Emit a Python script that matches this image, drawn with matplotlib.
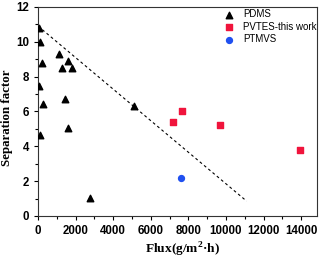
import matplotlib
matplotlib.use("Agg")
import matplotlib.pyplot as plt
from matplotlib.ticker import MultipleLocator

pdms_x = [50, 100, 230, 70, 250, 1135, 1580, 1277, 1826, 1437, 1580, 5093, 100, 2750]
pdms_y = [10.8, 10.0, 8.8, 7.45, 6.42, 9.3, 8.9, 8.5, 8.5, 6.7, 5.03, 6.33, 4.63, 1.01]
pvtes_x = [7680, 7168, 9702, 13960]
pvtes_y = [6.0, 5.39, 5.2, 3.78]
ptmvs_x = [7594]
ptmvs_y = [2.2]
line_x = [0, 11100]
line_y = [10.9, 0.85]

plt.rcParams['mathtext.fontset'] = 'custom'
plt.rcParams['mathtext.rm'] = 'Liberation Serif:bold'
plt.rcParams['mathtext.bf'] = 'Liberation Serif:bold'

fig = plt.figure(figsize=(3.2, 2.58), dpi=100)
ax = fig.add_axes([0.119, 0.163, 0.872, 0.810])

ax.plot(line_x, line_y, linestyle=(0, (2.5, 2.5)), color='black', linewidth=0.8)
ax.scatter(pdms_x, pdms_y, marker='^', s=22, color='black', label='PDMS', zorder=3)
ax.scatter(pvtes_x, pvtes_y, marker='s', s=16, color='#f0143c', label='PVTES-this work', zorder=3)
ax.scatter(ptmvs_x, ptmvs_y, marker='o', s=18, color='#2050f0', label='PTMVS', zorder=3)

ax.set_xlim(0, 14850)
ax.set_ylim(0, 12)
ax.xaxis.set_major_locator(MultipleLocator(2000))
ax.xaxis.set_minor_locator(MultipleLocator(1000))
ax.yaxis.set_major_locator(MultipleLocator(2))
ax.yaxis.set_minor_locator(MultipleLocator(1))
ax.tick_params(which='both', direction='out', top=False, right=False)
ax.tick_params(which='major', length=3, width=0.8)
ax.tick_params(which='minor', length=2, width=0.8)
for lbl in ax.get_xticklabels() + ax.get_yticklabels():
    lbl.set_fontfamily('Liberation Sans')
    lbl.set_fontweight('bold')
    lbl.set_fontsize(8.3)
for sp in ax.spines.values():
    sp.set_linewidth(0.8)
    sp.set_color('#333333')

ax.set_xlabel('Flux(g/m$^{2}$·h)', fontfamily='Liberation Serif', fontweight='bold', fontsize=9.6)
ax.set_ylabel('Separation factor', fontfamily='Liberation Serif', fontweight='bold', fontsize=9.3)
ax.xaxis.set_label_coords(0.516, -0.163)
ax.yaxis.set_label_coords(-0.111, 0.471)
ax.xaxis.label.set_verticalalignment('center')
ax.yaxis.label.set_verticalalignment('center')

leg = ax.legend(loc='upper right', frameon=False, prop={'family': 'Liberation Sans', 'size': 7},
                handletextpad=0.9, borderaxespad=0.0, labelspacing=0.25, handlelength=1.0,
                bbox_to_anchor=(1.012, 1.007))

fig.savefig('out.png', dpi=100)
